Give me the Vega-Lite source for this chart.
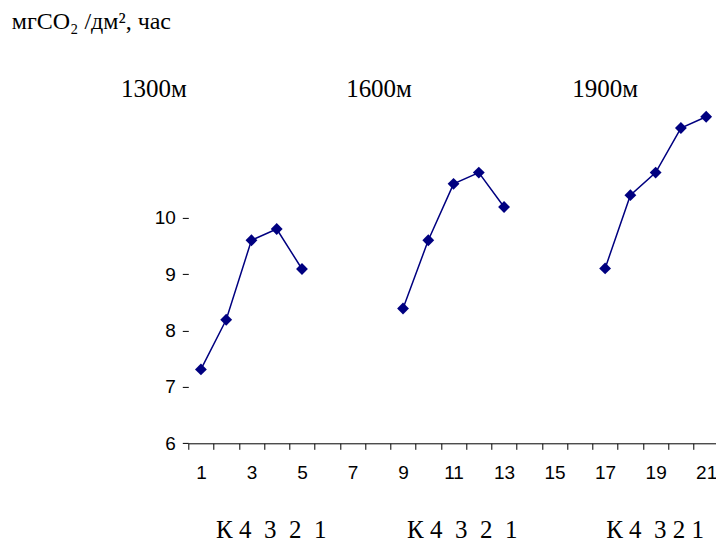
{
  "$schema": "https://vega.github.io/schema/vega-lite/v6.json",
  "width": 530.5,
  "height": 338.4,
  "autosize": {"type": "none"},
  "padding": {"left": 188.3, "top": 104.9, "right": 0, "bottom": 101},
  "background": "white",
  "config": {"view": {"stroke": null}},
  "datasets": {
    "pts": [
      {"group": "1300", "x": 1, "y": 7.31},
      {"group": "1300", "x": 2, "y": 8.19},
      {"group": "1300", "x": 3, "y": 9.6},
      {"group": "1300", "x": 4, "y": 9.8},
      {"group": "1300", "x": 5, "y": 9.09},
      {"group": "1600", "x": 9, "y": 8.39},
      {"group": "1600", "x": 10, "y": 9.6},
      {"group": "1600", "x": 11, "y": 10.6},
      {"group": "1600", "x": 12, "y": 10.8},
      {"group": "1600", "x": 13, "y": 10.19},
      {"group": "1900", "x": 17, "y": 9.1},
      {"group": "1900", "x": 18, "y": 10.4},
      {"group": "1900", "x": 19, "y": 10.8},
      {"group": "1900", "x": 20, "y": 11.59},
      {"group": "1900", "x": 21, "y": 11.79}
    ],
    "ann": [
      {"kind": "title", "text": "мгCO₂ /дм², час", "x": -6.49, "y": 13.34},
      {"kind": "head", "text": "1300м", "x": -0.86, "y": 12.145},
      {"kind": "head", "text": "1600м", "x": 8.05, "y": 12.145},
      {"kind": "head", "text": "1900м", "x": 17.0, "y": 12.145},
      {"kind": "foot", "text": "К 4\u00a0 3\u00a0 2\u00a0 1", "x": 1.6, "y": 4.32},
      {"kind": "foot", "text": "К 4\u00a0 3\u00a0 2\u00a0 1", "x": 9.16, "y": 4.32},
      {"kind": "foot", "text": "К 4\u00a0 3 2 1", "x": 17.04, "y": 4.32}
    ]
  },
  "encoding": {
    "x": {
      "field": "x",
      "type": "quantitative",
      "scale": {"domain": [0.5, 21.5], "nice": false, "zero": false},
      "axis": {
        "title": null,
        "grid": false,
        "values": [0.5, 1, 1.5, 2, 2.5, 3, 3.5, 4, 4.5, 5, 5.5, 6, 6.5, 7, 7.5, 8, 8.5, 9, 9.5, 10, 10.5, 11, 11.5, 12, 12.5, 13, 13.5, 14, 14.5, 15, 15.5, 16, 16.5, 17, 17.5, 18, 18.5, 19, 19.5, 20, 20.5, 21, 21.5],
        "labelExpr": "datum.value % 2 === 1 ? ('' + datum.value) : ''",
        "tickOpacity": {"condition": {"test": "datum.value % 1 === 0", "value": 0}, "value": 1},
        "tickSize": 6,
        "tickColor": "black",
        "tickWidth": 1,
        "domainColor": "black",
        "domainWidth": 1,
        "labelFont": "Liberation Sans",
        "labelFontSize": 19,
        "labelColor": "black",
        "labelPadding": 14,
        "labelOverlap": false,
        "labelFlush": false
      }
    },
    "y": {
      "field": "y",
      "type": "quantitative",
      "scale": {"domain": [6, 12], "nice": false, "zero": false},
      "axis": {
        "title": null,
        "grid": false,
        "domain": false,
        "values": [6, 7, 8, 9, 10],
        "tickSize": 6,
        "tickColor": "black",
        "tickWidth": 1,
        "labelFont": "Liberation Sans",
        "labelFontSize": 19,
        "labelColor": "black",
        "labelPadding": 7,
        "labelOverlap": false,
        "labelFlush": false
      }
    }
  },
  "layer": [
    {
      "data": {"name": "pts"},
      "mark": {
        "type": "line",
        "color": "#000080",
        "strokeWidth": 1.5,
        "point": {"shape": "diamond", "size": 140, "filled": true, "color": "#000080", "opacity": 1}
      },
      "encoding": {"detail": {"field": "group", "type": "nominal"}}
    },
    {
      "data": {"values": [{}]},
      "mark": {"type": "rule", "color": "black", "strokeWidth": 1},
      "encoding": {
        "x": {"datum": 0.5, "type": "quantitative"},
        "y": {"datum": 6, "type": "quantitative"},
        "y2": {"datum": 10.52}
      }
    },
    {
      "data": {"name": "ann"},
      "transform": [{"filter": "datum.kind === 'title'"}],
      "mark": {"type": "text", "font": "Liberation Serif", "fontSize": 24, "align": "left", "baseline": "alphabetic", "color": "black", "clip": false},
      "encoding": {"text": {"field": "text"}}
    },
    {
      "data": {"name": "ann"},
      "transform": [{"filter": "datum.kind === 'head'"}],
      "mark": {"type": "text", "font": "Liberation Serif", "fontSize": 25, "align": "center", "baseline": "alphabetic", "color": "black", "clip": false},
      "encoding": {"text": {"field": "text"}}
    },
    {
      "data": {"name": "ann"},
      "transform": [{"filter": "datum.kind === 'foot'"}],
      "mark": {"type": "text", "font": "Liberation Serif", "fontSize": 25, "align": "left", "baseline": "alphabetic", "color": "black", "clip": false},
      "encoding": {"text": {"field": "text"}}
    }
  ]
}
